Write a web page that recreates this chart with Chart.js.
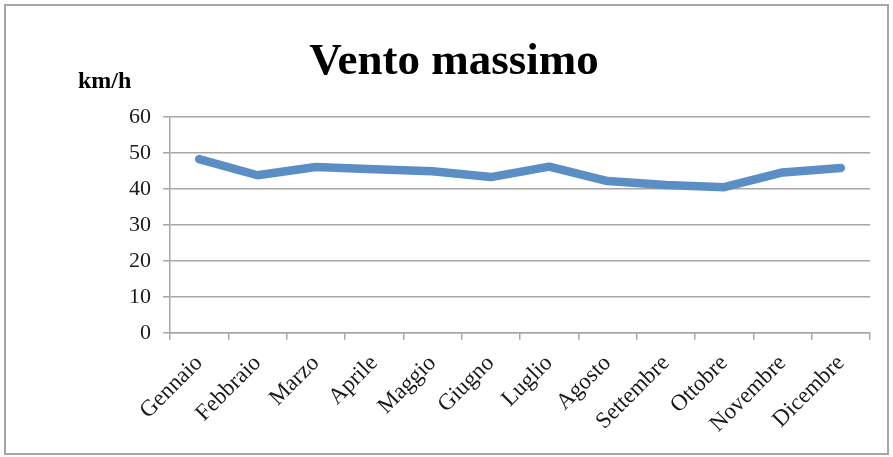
<!DOCTYPE html>
<html>
<head>
<meta charset="utf-8">
<script src="https://cdn.jsdelivr.net/npm/chart.js@4/dist/chart.umd.min.js"></script>
<style>
  body { margin: 0; background: #fff; }
  #wrap { position: relative; width: 893px; height: 457px; }
</style>
</head>
<body>
<div id="wrap"><canvas id="vento"></canvas></div>
<script>
let mesi = ['Gennaio','Febbraio','Marzo','Aprile','Maggio','Giugno','Luglio','Agosto','Settembre','Ottobre','Novembre','Dicembre'];
let ventoMax = [48.3, 43.8, 46.1, 45.5, 44.9, 43.3, 46.2, 42.2, 41.1, 40.5, 44.6, 45.8];
let yTicks = [0, 10, 20, 30, 40, 50, 60];

// bordo esterno, titolo e etichetta km/h
const extras = {
    id: 'extras',
    beforeDraw(chart) {
        const c = chart.ctx;
        c.save();
        c.fillStyle = '#fff';
        c.fillRect(0, 0, chart.width, chart.height);
        c.strokeStyle = '#a6a6a6';
        c.lineWidth = 2;
        c.strokeRect(5, 5, chart.width - 10, chart.height - 8);
        c.restore();
    },
    afterDraw(chart) {
        const c = chart.ctx;
        c.save();
        c.fillStyle = '#000';
        c.textBaseline = 'alphabetic';
        c.textAlign = 'center';
        c.font = 'bold 45px "Liberation Serif"';
        c.fillText('Vento massimo', 454, 74);
        c.textAlign = 'left';
        c.font = 'bold 24px "Liberation Serif"';
        c.fillText('km/h', 78, 88);
        c.restore();
    }
};

const ctx = document.getElementById('vento').getContext('2d');
const ventoChart = new Chart(ctx, {
    type: 'line',
    data: {
        labels: mesi,
        datasets: [{
            label: 'Vento massimo',
            data: ventoMax,
            borderColor: '#5a8ec4',
            borderWidth: 8.5,
            pointRadius: 0,
            tension: 0,
            fill: false,
            borderCapStyle: 'round',
            borderJoinStyle: 'round'
        }]
    },
    options: {
        responsive: true,
        maintainAspectRatio: false,
        animation: false,
        layout: {
            padding: { left: 117, right: 23, top: 117, bottom: 9 }
        },
        scales: {
            y: {
                min: 0,
                max: 60,
                afterBuildTicks: axis => { axis.ticks = yTicks.map(v => ({ value: v })); },
                grid: {
                    color: '#a6a6a6',
                    lineWidth: 1.5,
                    tickLength: 7
                },
                border: { color: '#a6a6a6', width: 1.5 },
                ticks: {
                    color: '#1a1a1a',
                    font: { family: '"Liberation Serif"', size: 22 },
                    padding: 12
                }
            },
            x: {
                offset: true,
                grid: {
                    offset: true,
                    drawOnChartArea: false,
                    color: '#a6a6a6',
                    lineWidth: 1.5,
                    tickLength: 7
                },
                border: { color: '#a6a6a6', width: 1.5 },
                ticks: {
                    color: '#1a1a1a',
                    font: { family: '"Liberation Serif"', size: 23 },
                    minRotation: 45,
                    maxRotation: 45,
                    autoSkip: false,
                    padding: 10
                }
            }
        },
        plugins: {
            legend: { display: false },
            tooltip: { enabled: false },
            title: { display: false }
        }
    },
    plugins: [extras]
});
</script>
</body>
</html>
